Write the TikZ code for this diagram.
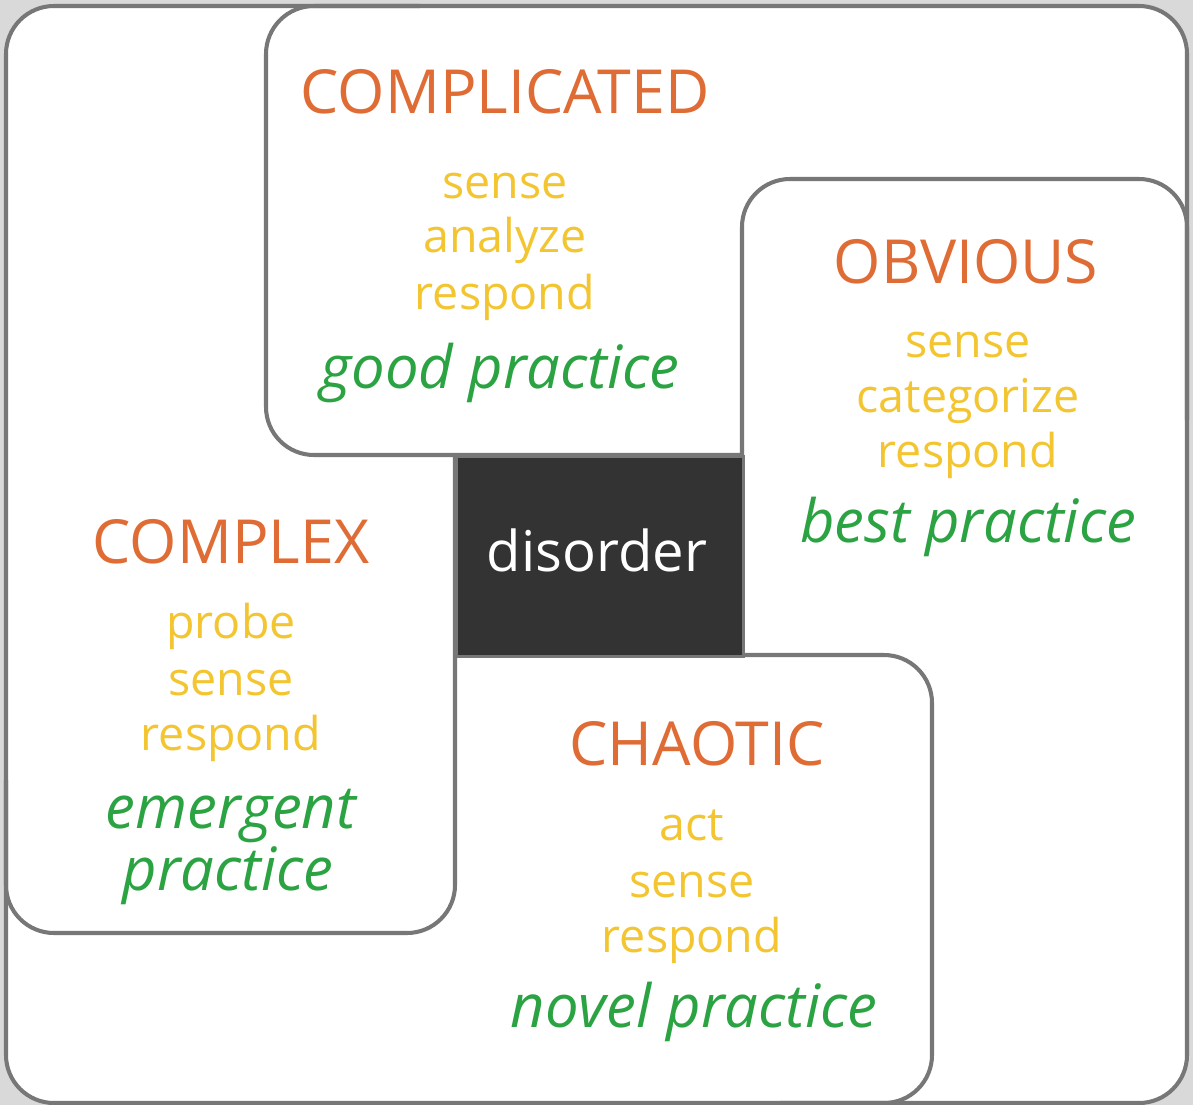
\documentclass[tikz,border=0pt]{standalone}
\usepackage{fontspec}
\setmainfont{Open Sans}
\definecolor{bordergrey}{HTML}{777777}
\definecolor{bggrey}{HTML}{D9D9D9}
\definecolor{darkfill}{HTML}{333333}
\definecolor{titleorange}{HTML}{E06C35}
\definecolor{verbyellow}{HTML}{F3C531}
\definecolor{practgreen}{HTML}{2BA342}
\tikzset{
  edgeline/.style={draw=bordergrey, line width=2.3pt, rounded corners=0.96cm},
  title/.style={anchor=base, inner sep=0pt, text=titleorange, font=\fontsize{34.6}{40}\selectfont},
  verb/.style={anchor=base, inner sep=0pt, text=verbyellow, font=\fontsize{26.5}{30}\selectfont},
  pract/.style={anchor=base, inner sep=0pt, text=practgreen, font=\fontsize{34}{38}\selectfont\itshape},
}
\begin{document}
\begin{tikzpicture}[x=0.02cm, y=-0.02cm]
\useasboundingbox (0,0) rectangle (1193,1105);
\fill[bggrey] (0,0) rectangle (1193,1105);
% outer frame
\path[edgeline, fill=white] (6,6) rectangle (1187,1103);
% complicated
\draw[edgeline] (742,455) -- (266,455) -- (266,6) -- (420,6);
% obvious
\draw[edgeline] (742,655) -- (742,179) -- (1187,179) -- (1187,420);
% chaotic
\draw[edgeline] (455,655) -- (932,655) -- (932,1103) -- (780,1103);
% complex
\draw[edgeline] (455,455) -- (455,933) -- (6,933) -- (6,780);
% disorder
\node[draw=bordergrey, line width=1.6pt, fill=darkfill, minimum width=287*0.02cm, minimum height=200*0.02cm, inner sep=0pt, anchor=north west] (dis) at (455,455) {};
\node[anchor=base, inner sep=0pt, text=white, font=\fontsize{32}{36}\selectfont] (distext) at (597,571) {disorder};

% COMPLICATED
\node[title] (t1) at (505,113) {COMPLICATED};
\node[verb] (c1) at (505,198) {sense};
\node[verb] (c2) at (505,252) {analyze};
\node[verb] (c3) at (505,309) {respond};
\node[pract] (p1) at (500,388) {good practice};

% OBVIOUS
\node[title] (t2) at (966,283) {OBVIOUS};
\node[verb] (o1) at (968,357) {sense};
\node[verb] (o2) at (968,412) {categorize};
\node[verb] (o3) at (968,467) {respond};
\node[pract] (p2) at (968,542) {best practice};

% COMPLEX
\node[title] (t3) at (231,563) {COMPLEX};
\node[verb] (x1) at (231,638) {probe};
\node[verb] (x2) at (231,695) {sense};
\node[verb] (x3) at (231,750) {respond};
\node[pract] (p3a) at (231,828) {emergent};
\node[pract] (p3b) at (228,890) {practice};

% CHAOTIC
\node[title] (t4) at (697,765) {CHAOTIC};
\node[verb] (h1) at (692,840) {act};
\node[verb] (h2) at (692,897) {sense};
\node[verb] (h3) at (692,952) {respond};
\node[pract] (p4) at (694,1027) {novel practice};
\end{tikzpicture}
\end{document}
